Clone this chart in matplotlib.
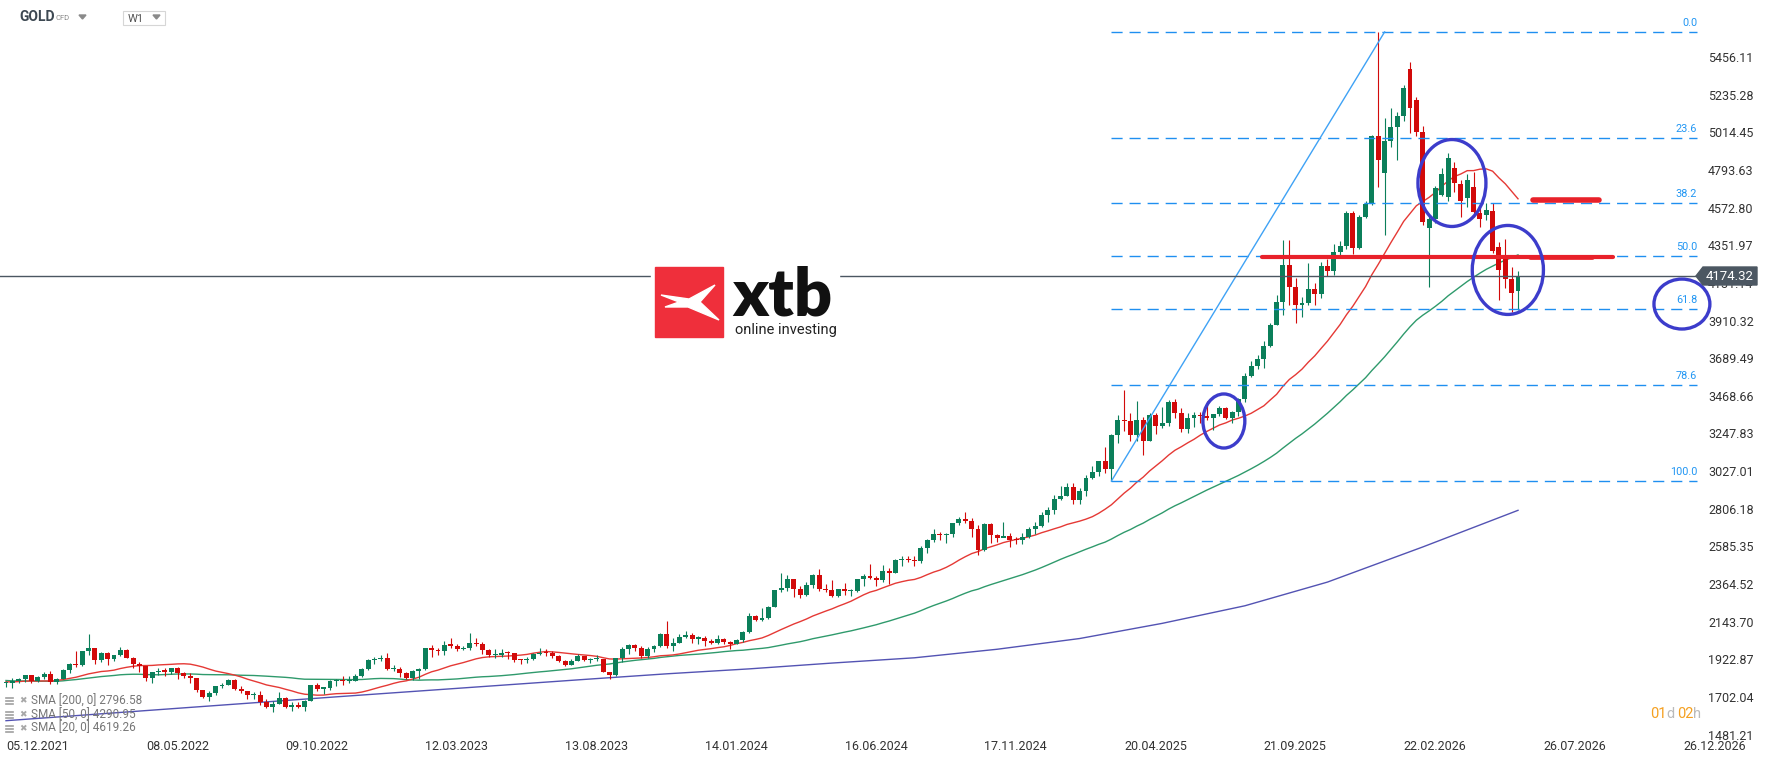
# GOLD weekly chart (xStation style) with fibo retracement and SMAs

import numpy as np
import pandas as pd
import matplotlib.pyplot as plt
from matplotlib.patches import Rectangle, Ellipse, Polygon
from matplotlib.lines import Line2D

plt.rcParams['font.family'] = ['Roboto', 'DejaVu Sans']

W, H = 1768, 760

# weekly candles, week 0 = week of 05.12.2021
closes = [
    1783, 1798, 1808, 1829, 1797, 1817, 1835, 1791, 1808, 1859,
    1898, 1889, 1970, 1988, 1921, 1958, 1925, 1947, 1975, 1931,
    1897, 1883, 1811, 1846, 1853, 1851, 1871, 1840, 1827, 1811,
    1742, 1703, 1727, 1766, 1775, 1802, 1747, 1738, 1712, 1716,
    1675, 1644, 1661, 1695, 1644, 1657, 1645, 1681, 1771, 1751,
    1755, 1797, 1797, 1793, 1798, 1824, 1865, 1920, 1926, 1928,
    1865, 1865, 1842, 1811, 1856, 1868, 1989, 1978, 1969, 2007,
    2004, 1983, 1990, 2017, 2011, 1977, 1946, 1948, 1961, 1958,
    1921, 1919, 1925, 1955, 1962, 1959, 1943, 1914, 1889, 1915,
    1940, 1919, 1924, 1925, 1848, 1833, 1932, 1981, 2006, 1992,
    1940, 1981, 2002, 2072, 2004, 2019, 2053, 2063, 2045, 2049,
    2029, 2018, 2040, 2024, 2013, 2035, 2083, 2179, 2155, 2165,
    2230, 2329, 2344, 2392, 2337, 2301, 2360, 2415, 2334, 2327,
    2294, 2333, 2322, 2326, 2392, 2411, 2400, 2386, 2443, 2431,
    2507, 2512, 2503, 2497, 2577, 2621, 2658, 2653, 2657, 2721,
    2747, 2737, 2685, 2563, 2715, 2650, 2633, 2648, 2622, 2621,
    2640, 2690, 2703, 2770, 2800, 2861, 2883, 2936, 2858, 2910,
    2984, 3023, 3085, 3037, 3237, 3327, 3319, 3240, 3325, 3205,
    3357, 3289, 3310, 3433, 3368, 3274, 3337, 3355, 3350, 3337,
    3363, 3398, 3336, 3371, 3448, 3586, 3643, 3685, 3760, 3887,
    4018, 4236, 4105, 4001, 4015, 4095, 4066, 4230, 4203, 4312,
    4347, 4543, 4338, 4520, 4594, 4993, 4852, 4963, 5043, 5110,
    5272, 5159, 5018, 4490, 4504, 4686, 4770, 4866, 4719, 4613,
    4735, 4549, 4506, 4559, 4320, 4207, 4154, 4074, 4174,
]
highs = [
    1793, 1815, 1813, 1831, 1832, 1828, 1848, 1853, 1813, 1865,
    1902, 1974, 1974, 2070, 1990, 1966, 1966, 1950, 1998, 1982,
    1936, 1910, 1884, 1849, 1870, 1874, 1875, 1879, 1847, 1841,
    1812, 1745, 1739, 1768, 1787, 1808, 1808, 1765, 1740, 1729,
    1735, 1688, 1676, 1730, 1700, 1675, 1675, 1684, 1774, 1787,
    1760, 1804, 1810, 1824, 1823, 1834, 1870, 1922, 1937, 1949,
    1960, 1889, 1876, 1847, 1858, 1870, 1989, 2009, 1987, 2032,
    2048, 2015, 2003, 2079, 2048, 2022, 1985, 1983, 1985, 1972,
    1959, 1926, 1935, 1962, 1987, 1982, 1974, 1948, 1917, 1923,
    1953, 1945, 1933, 1947, 1925, 1850, 1933, 1997, 2010, 2010,
    2000, 1993, 2007, 2075, 2149, 2047, 2070, 2088, 2078, 2062,
    2060, 2041, 2065, 2051, 2031, 2041, 2088, 2195, 2185, 2222,
    2236, 2330, 2431, 2417, 2395, 2354, 2378, 2422, 2450, 2364,
    2388, 2336, 2368, 2337, 2392, 2425, 2483, 2412, 2477, 2460,
    2509, 2531, 2530, 2529, 2585, 2626, 2685, 2670, 2664, 2722,
    2758, 2790, 2750, 2710, 2721, 2721, 2657, 2726, 2665, 2638,
    2665, 2697, 2726, 2786, 2817, 2887, 2942, 2955, 2956, 2930,
    3004, 3057, 3086, 3167, 3245, 3357, 3500, 3368, 3438, 3345,
    3366, 3365, 3403, 3446, 3452, 3398, 3366, 3375, 3375, 3439,
    3364, 3409, 3404, 3379, 3454, 3600, 3675, 3707, 3791, 3897,
    4059, 4380, 4381, 4161, 4046, 4250, 4128, 4255, 4271, 4359,
    4379, 4553, 4553, 4530, 4610, 5000, 5600, 5100, 5155, 5135,
    5290, 5425, 5220, 5051, 4530, 4700, 4803, 4895, 4842, 4735,
    4770, 4783, 4580, 4598, 4598, 4373, 4388, 4226, 4203,
]
lows = [
    1762, 1753, 1785, 1789, 1782, 1790, 1805, 1780, 1780, 1806,
    1842, 1878, 1886, 1950, 1895, 1910, 1890, 1915, 1940, 1930,
    1872, 1850, 1798, 1787, 1829, 1828, 1836, 1805, 1816, 1785,
    1732, 1697, 1680, 1711, 1754, 1771, 1745, 1727, 1688, 1691,
    1654, 1640, 1615, 1659, 1640, 1618, 1637, 1617, 1676, 1737,
    1721, 1741, 1765, 1773, 1784, 1795, 1822, 1860, 1896, 1911,
    1861, 1852, 1819, 1809, 1804, 1810, 1858, 1934, 1950, 1950,
    1992, 1969, 1975, 1980, 2000, 1952, 1937, 1932, 1938, 1925,
    1910, 1893, 1902, 1920, 1950, 1942, 1928, 1910, 1884, 1890,
    1914, 1914, 1901, 1913, 1846, 1810, 1823, 1908, 1953, 1970,
    1932, 1931, 1965, 1997, 1990, 1973, 2016, 2046, 2016, 2013,
    2002, 2010, 2015, 2015, 1984, 2011, 2024, 2078, 2146, 2146,
    2160, 2229, 2320, 2325, 2291, 2285, 2297, 2340, 2325, 2316,
    2286, 2287, 2303, 2293, 2319, 2353, 2395, 2353, 2379, 2364,
    2430, 2470, 2491, 2472, 2486, 2546, 2614, 2624, 2604, 2640,
    2708, 2723, 2643, 2537, 2560, 2605, 2613, 2640, 2583, 2600,
    2597, 2633, 2656, 2698, 2730, 2773, 2860, 2879, 2832, 2832,
    2880, 2982, 2999, 3015, 2970, 3194, 3260, 3202, 3202, 3121,
    3205, 3245, 3278, 3293, 3340, 3255, 3248, 3283, 3310, 3325,
    3268, 3349, 3330, 3312, 3351, 3435, 3578, 3626, 3630, 3755,
    3885, 3945, 4004, 3894, 3930, 4000, 4001, 4040, 4171, 4180,
    4290, 4330, 4298, 4330, 4510, 4590, 4695, 4412, 4930, 4852,
    5080, 5008, 4990, 4470, 4109, 4480, 4640, 4610, 4666, 4520,
    4578, 4520, 4461, 4500, 4304, 4031, 4100, 3962, 3972,
]
# weeks whose open is not the previous close
open_gaps = {217: 4778, 221: 5386, 222: 5204, 224: 4451, 226: 4647,
             227: 4637, 228: 4803, 229: 4711, 230: 4631, 231: 4692,
             232: 4543, 233: 4529, 234: 4553, 235: 4340, 236: 4281,
             238: 4085}
# weekly closes before the visible window (only feed the moving averages)
prior_closes = [
    1895, 1850, 1828, 1856, 1848, 1814, 1824, 1784, 1734, 1700,
    1727, 1745, 1733, 1729, 1744, 1777, 1777, 1769, 1831, 1844,
    1881, 1905, 1892, 1877, 1764, 1781, 1787, 1808, 1812, 1802,
    1814, 1763, 1780, 1781, 1818, 1827, 1788, 1754, 1751, 1761,
    1757, 1768, 1793, 1783, 1818, 1865, 1846, 1788, 1783,
]

# 200-week SMA
sma200_weeks = [0, 13, 26, 39, 52, 65, 78, 91, 104, 117, 130, 143, 156,
                169, 182, 195, 208, 223, 238]
sma200_vals = [1563, 1598, 1633, 1668, 1703, 1737, 1771, 1805, 1838, 1867,
               1901, 1932, 1982, 2045, 2134, 2237, 2376, 2582, 2797]

date_ticks = [0, 22, 44, 66, 88, 110, 132, 154, 176, 198, 220, 242, 264]
date_labels = ['05.12.2021', '08.05.2022', '09.10.2022', '12.03.2023',
               '13.08.2023', '14.01.2024', '16.06.2024', '17.11.2024',
               '20.04.2025', '21.09.2025', '22.02.2026', '26.07.2026',
               '26.12.2026']
price_labels = ['1481.21', '1702.04', '1922.87', '2143.70', '2364.52',
                '2585.35', '2806.18', '3027.01', '3247.83', '3468.66',
                '3689.49', '3910.32', '4131.14', '4351.97', '4572.80',
                '4793.63', '5014.45', '5235.28', '5456.11']

fib_levels = [0.0, 23.6, 38.2, 50.0, 61.8, 78.6, 100.0]
fib_low, fib_high = 2969, 5603
fib_start, fib_top = 174, 217

last_price = 4174.32
sma_legend = ['SMA [200, 0] 2796.58', 'SMA [50, 0] 4290.95', 'SMA [20, 0] 4619.26']

# user drawn marks: (week from, week to, price, width)
red_levels = [(197.7, 252.9, 4281, 3.0), (239.9, 249.6, 4285, 3.4),
              (240.4, 250.7, 4615, 4.0)]
# circles: (week, price, width in weeks, height in price)
circles = [(191.7, 3321, 6.6, 317), (227.6, 4717, 10.7, 510),
           (236.4, 4207, 11.2, 522), (263.8, 4007, 8.8, 293)]


# pixel <-> data helpers for the layout
def wk(px):
    return (px - 6) / 6.353


def pr(py):
    return 5456.11 - (py - 57) * 5.8658


def fx(px):
    return px / W


def fy(py):
    return 1 - py / H


fig = plt.figure(figsize=(W / 100, H / 100), dpi=100)
ax = fig.add_axes([0, fy(737), fx(1700), 737 / H])
ax.set_xlim(wk(0), wk(1700))
ax.set_ylim(pr(737), pr(0))
for s in ax.spines.values():
    s.set_visible(False)

n = len(closes)
x = np.arange(n)
C = np.array(closes, float)
O = np.array([prior_closes[-1]] + closes[:-1], float)
for k, v in open_gaps.items():
    O[k] = v
up = C >= O
green, red = '#0b7f5a', '#d20a0a'
cols = [green if u else red for u in up]

# moving averages
allc = pd.Series(prior_closes + closes, dtype=float)
sma20 = allc.rolling(20).mean().values[-n:]
sma50 = allc.rolling(50).mean().values[-n:]
ax.plot(sma200_weeks, sma200_vals, color='#5353b3', lw=1.0, zorder=2)
ax.plot(x, sma50, color='#2f9a6c', lw=1.0, zorder=2)
ax.plot(x, sma20, color='#e53935', lw=1.0, zorder=2)

# candles
ax.vlines(x, lows, highs, colors=cols, lw=0.8, zorder=3)
body = np.maximum(np.abs(C - O), 7)
ax.bar(x, body, bottom=np.minimum(O, C), width=0.78, color=cols, lw=0, zorder=4)

# fibonacci retracement
fib_x1 = wk(1697)
for lv in fib_levels:
    p = fib_high - (fib_high - fib_low) * lv / 100
    ax.plot([fib_start, fib_x1], [p, p], color='#1f8ff0', lw=1.0,
            linestyle=(0, (8, 5)), zorder=5)
    ax.text(fib_x1, p + 9 * 5.8658, f'{lv:.1f}', color='#2196f3', fontsize=7.8,
            ha='right', va='center', zorder=6)
ax.plot([fib_start, fib_top], [fib_low, fib_high], color='#3fa2f5', lw=1.0, zorder=5)

# current price line
ax.plot([wk(0), wk(1697)], [last_price, last_price], color='#4b5661', lw=1.0, zorder=5)

# drawn levels and circles
for a, b, p, w in red_levels:
    ax.plot([a, b], [p, p], color='#e8212a', lw=w, solid_capstyle='round', zorder=7)
for cx, cy, ew, eh in circles:
    ax.add_patch(Ellipse((cx, cy), ew, eh, fill=False, edgecolor='#3c3ccb',
                         lw=2.4, zorder=8, clip_on=False))

# axes ticks
ax.set_xticks(date_ticks)
ax.set_xticklabels(date_labels)
for lbl in ax.get_xticklabels():
    lbl.set_ha('left')
ax.set_yticks([float(v) for v in price_labels])
ax.set_yticklabels(price_labels)
ax.yaxis.tick_right()
ax.tick_params(axis='x', length=0, pad=2, labelsize=9, labelcolor='#333333')
ax.tick_params(axis='y', length=0, pad=5.8, labelsize=9, labelcolor='#333333')

# price box on the right
box = [(1696, 276), (1703, 267), (1757, 267), (1757, 285), (1703, 285)]
fig.add_artist(Polygon([(fx(a), fy(b)) for a, b in box], closed=True,
                       transform=fig.transFigure, color='#4c5762', zorder=10))
fig.text(fx(1730), fy(276), f'{last_price:.2f}', color='white', fontsize=9.5,
         ha='center', va='center', zorder=11)

# xtb logo
fig.add_artist(Rectangle((fx(651), fy(340)), fx(188), 76 / H, transform=fig.transFigure,
                         color='white', zorder=9))
fig.add_artist(Rectangle((fx(655), fy(337)), fx(68), 70 / H, transform=fig.transFigure,
                         color='#ef2f3b', zorder=10))
xmark = [(661, 295), (689, 299), (715, 285), (700, 302), (719, 320),
         (688, 307), (665, 307), (679, 302)]
fig.add_artist(Polygon([(fx(a), fy(b)) for a, b in xmark], closed=True,
                       transform=fig.transFigure, color='white', zorder=11))
fig.text(fx(732), fy(315), 'xtb', fontsize=48, fontweight='heavy', color='#111111',
         family=['Lato', 'DejaVu Sans'], ha='left', va='baseline', zorder=11)
fig.text(fx(735), fy(334), 'online investing', fontsize=10.5, color='#222222',
         ha='left', va='baseline', zorder=11)

# header
fig.text(fx(19), fy(17), 'GOLD', fontsize=10, fontweight='bold', color='#3d4852',
         ha='left', va='center')
fig.text(fx(56), fy(18), 'CFD', fontsize=5.5, color='#8a8a8a', ha='left', va='center')
tri = [(79, 15), (86, 15), (82.5, 19)]
fig.add_artist(Polygon([(fx(a), fy(b)) for a, b in tri], transform=fig.transFigure,
                       color='#8a8a8a'))
fig.add_artist(Rectangle((fx(123), fy(25)), fx(42), 14 / H, transform=fig.transFigure,
                         fill=False, edgecolor='#d6d6d6', lw=0.8))
fig.text(fx(128), fy(18.5), 'W1', fontsize=8, color='#555555', ha='left', va='center')
tri = [(153, 15), (160, 15), (156.5, 19)]
fig.add_artist(Polygon([(fx(a), fy(b)) for a, b in tri], transform=fig.transFigure,
                       color='#8a8a8a'))

# SMA legend
for k, txt in enumerate(sma_legend):
    yc = 701 + k * 13.8
    for dy in (-3, 0, 3):
        fig.add_artist(Line2D([fx(6), fx(13)], [fy(yc + dy), fy(yc + dy)],
                              transform=fig.transFigure, color='#a0a0a0', lw=1.2))
    fig.text(fx(23), fy(yc), '\u2716', fontsize=6.5, color='#a8a8a8',
             family=['DejaVu Sans'], ha='center', va='center')
    fig.text(fx(31), fy(yc), txt, fontsize=8.5, color='#777777', ha='left', va='center')

# candle timer
for xp, t, c in [(1650, '01', '#f5a020'), (1666, 'd', '#bbbbbb'),
                 (1677, '02', '#f5a020'), (1693, 'h', '#bbbbbb')]:
    fig.text(fx(xp), fy(714), t, fontsize=10.5, color=c, ha='left', va='center')

fig.savefig('out.png', dpi=100, facecolor='white')
